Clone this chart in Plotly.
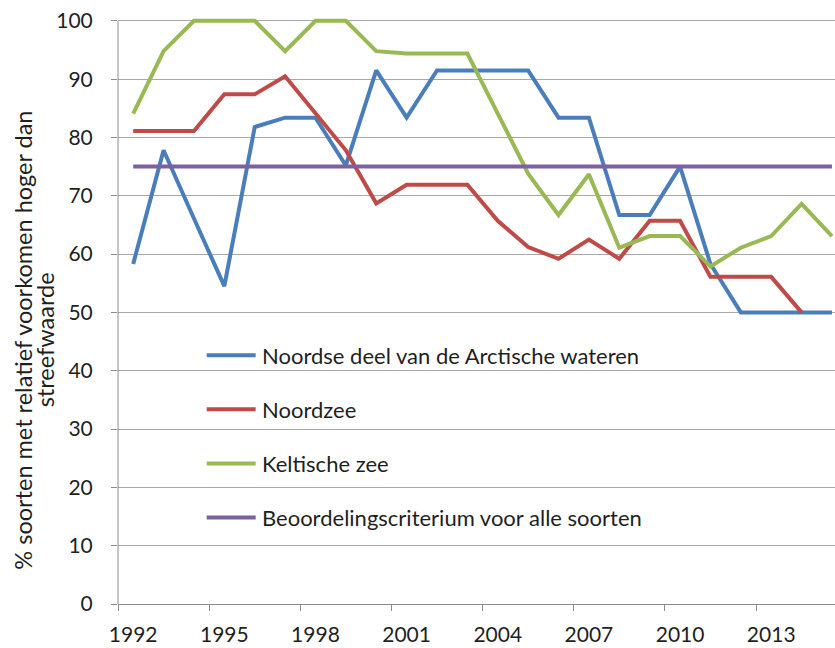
import plotly.graph_objects as go

# Jaren (categorieën op de x-as)
years = list(range(1992, 2016))

# % soorten met relatief voorkomen hoger dan streefwaarde
arctisch = [58.3, 77.8, 66.1, 54.5, 81.8, 83.4, 83.4, 75.2, 91.5, 83.4, 91.5, 91.5,
            91.5, 91.5, 83.4, 83.4, 66.7, 66.7, 75.0, 58.3, 50.0, 50.0, 50.0, 50.0]
noordzee = [81.1, 81.1, 81.1, 87.4, 87.4, 90.5, 84.1, 77.8, 68.7, 71.9, 71.9, 71.9,
            65.7, 61.2, 59.2, 62.5, 59.2, 65.7, 65.7, 56.1, 56.1, 56.1, 50.0, None]
keltisch = [84.1, 94.8, 100.0, 100.0, 100.0, 94.8, 100.0, 100.0, 94.8, 94.4, 94.4, 94.4,
            84.1, 73.8, 66.7, 73.7, 61.1, 63.1, 63.1, 57.9, 61.1, 63.1, 68.6, 63.1]
criterium = [75.0] * len(years)

series_names = [
    "Noordse deel van de Arctische wateren",
    "Noordzee",
    "Keltische zee",
    "Beoordelingscriterium voor alle soorten",
]
series_values = [arctisch, noordzee, keltisch, criterium]
series_colors = ["#4A7EBB", "#BE4B48", "#98B954", "#7D60A0"]

year_ticks = [1992, 1995, 1998, 2001, 2004, 2007, 2010, 2013]

y_title_lines = ["% soorten met relatief voorkomen hoger dan", "streefwaarde"]

FONT = "Lato, 'Liberation Sans', sans-serif"
TEXT = "#1f1f1f"
GRID = "#A8A8A8"
AXIS = "#8C8C8C"

fig = go.Figure()
for name, vals, col in zip(series_names, series_values, series_colors):
    fig.add_trace(go.Scatter(
        x=years, y=vals, name=name, mode="lines",
        line=dict(color=col, width=4),
        connectgaps=False, showlegend=False, hoverinfo="x+y+name",
    ))

# Legend drawn inside the plot area, without a box
legend_y = [0.4224, 0.3307, 0.2385, 0.1467]
for name, col, ly in zip(series_names, series_colors, legend_y):
    fig.add_shape(type="line", xref="paper", yref="paper",
                  x0=0.1237, x1=0.1920, y0=ly, y1=ly,
                  line=dict(color=col, width=4))
    fig.add_annotation(xref="paper", yref="paper", x=0.198, y=ly,
                       xanchor="left", yanchor="middle", showarrow=False,
                       text=name, font=dict(family=FONT, size=22, color=TEXT))

# Vertical axis line from 0 to 100
fig.add_shape(type="line", xref="paper", yref="y", x0=0, x1=0, y0=0, y1=100,
              line=dict(color=AXIS, width=1))

# Y-axis title: two rotated, centred lines
for line_text, tx in zip(y_title_lines, [-0.1318, -0.1015]):
    fig.add_annotation(xref="paper", yref="paper", x=tx, y=0.448,
                       xanchor="center", yanchor="middle", showarrow=False,
                       textangle=-90, text=line_text,
                       font=dict(family=FONT, size=23.5, color=TEXT))

fig.update_layout(
    width=835, height=648,
    margin=dict(l=118, r=0, t=15, b=44, pad=0),
    paper_bgcolor="white", plot_bgcolor="white",
    font=dict(family=FONT, size=21, color=TEXT),
    showlegend=False,
    xaxis=dict(
        range=[1991.5, 2015.1],
        tickmode="array", tickvals=year_ticks,
        ticktext=[str(y) for y in year_ticks],
        ticks="", showgrid=False, zeroline=False,
        showline=True, linecolor=AXIS, linewidth=1,
        ticklabelstandoff=12,
        minor=dict(tickmode="linear", tick0=1991.5, dtick=3,
                   ticks="outside", ticklen=6, tickcolor=AXIS,
                   tickwidth=1, showgrid=False),
        tickfont=dict(family=FONT, size=21, color=TEXT),
    ),
    yaxis=dict(
        range=[0, 101],
        tickmode="array", tickvals=list(range(0, 101, 10)),
        ticks="outside", ticklen=6, tickcolor=AXIS, tickwidth=1,
        showgrid=True, gridcolor=GRID, gridwidth=1,
        zeroline=False, showline=False,
        ticklabelstandoff=14,
        tickfont=dict(family=FONT, size=21, color=TEXT),
    ),
)

fig.write_html("out.html")
